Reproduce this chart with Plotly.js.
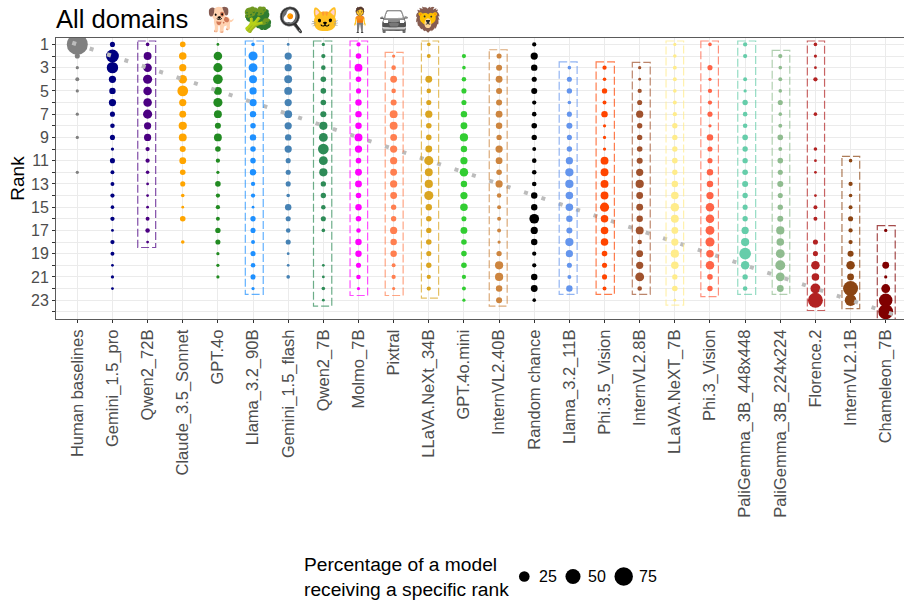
<!DOCTYPE html>
<html><head><meta charset="utf-8">
<script src="https://cdn.plot.ly/plotly-3.0.1.min.js"></script>
<style>html,body{margin:0;padding:0;background:#fff;overflow:hidden}</style>
</head><body><div id="chart" style="width:904px;height:601px"></div>
<script>
const models = ["Human baselines","Gemini_1.5_pro","Qwen2_72B","Claude_3.5_Sonnet","GPT.4o","Llama_3.2_90B","Gemini_1.5_flash","Qwen2_7B","Molmo_7B","Pixtral","LLaVA.NeXt_34B","GPT.4o.mini","InternVL2.40B","Random chance","Llama_3.2_11B","Phi.3.5_Vision","InternVL2.8B","LLaVA.NeXT_7B","Phi.3_Vision","PaliGemma_3B_448x448","PaliGemma_3B_224x224","Florence.2","InternVL2.1B","Chameleon_7B"];
const colors = ["#808080","#000080","#4B0082","#FFA500","#228B22","#1E90FF","#4682B4","#2E8B57","#FF00FF","#FF7F50","#DAA520","#32CD32","#CD853F","#000000","#6495ED","#FF4500","#A0522D","#FFEC8B","#FF6347","#66CDAA","#8FBC8F","#B22222","#8B4513","#800000"];
// percentage of each model receiving rank 1..24 (0 = none)
const human      = [85,5,2,3,2,0,2,0,2,0,0,2,0,0,0,0,0,0,0,0,0,0,0,0];
const geminiPro  = [5,32,25,10,8,10,5,4,5,2,5,3,3,3.5,2.5,3.5,1.5,3.5,3,1.5,2,1.5,0,0];
const qwen72     = [2.5,12,14,16,14,14,16,10,10,3.5,3.5,2.5,1.5,1.5,1.5,3,4,1.5,0,0,0,0,0,0];
const claude     = [6,11,10,14,22,10,9,13,12,7,9,6,5,2.5,1.5,6,0,2.5,0,0,0,0,0,0];
const gpt4o      = [1.5,14,16,18,12,16,12,7,12,6,3.5,2,6,3.5,3.5,3,5.5,5,2,2,2,0,0,0];
const llama90    = [2.5,16,15,12,10,10,8,6,8,6,6,8,3.5,3.5,1.5,5.5,5,3,5,4,5,2,0,0];
const geminiFl   = [1.5,10,10,12,12,10,12,10,8,10,5,5,5,2.5,8,5,4,5,1.5,1.5,2.5,0,0,0];
const qwen7      = [2,3.5,4,6,6,6,7,13,15,22,15,13,5.5,5.5,4,5,2.5,0,0,1.5,1.5,2.5,1.5,0];
const molmo      = [3.5,6,12,6,5,8,8,8,12,10,6,9,9,6,8,6,4,8,8,5,4,2,0,0];
const pixtral    = [0,2,4,9,4,7,12,12,9,10,10,9,10,9,5.5,5.5,10,8,8,3,3.5,2,0,0];
const llava34    = [2.5,3,0,9,4,5,10,6,6,9,16,12,13,16,8,6,5.5,6,5,5.5,3.5,3.5,0,0];
const gpt4oMini  = [0,3.5,2.5,4,5,5,8,9,13,8,10,14,8,10,11,5,9,6,6,6,3.5,3,2,0];
const intern40   = [0,5,7,9,7,7,9,8,5.5,10,9,6,10,4,3,3,3,2,5.5,13,13,8,7,0];
const randomCh   = [3.5,10,8,5,7,3.5,4,6,5.5,3,4,4,4,8,8,18,10,8,3.5,3.5,8,9,2.5,0];
const llama11    = [0,0,2.5,5,5.5,2.5,5,7,5,5.5,10,13,13,11,11,8,7,13,10,5,3,8,0,0];
const phi35      = [0,0,3.5,2.5,5.5,3,8,2,2,2,12,12,12,12,16,11,11,11,6,5,5,3,0,0];
const intern8    = [0,0,2,1.5,3.5,5,10,5.5,5.5,6,7,10,13,9,9,8,12,4,9,10,15,4,0,0];
const llava7     = [2,2.5,3,3,2.5,3,3.5,5.5,5.5,5.5,6,5.5,8,11,14,12,9,10,13,11,5.5,6,1.5,0];
const phi3       = [2.5,0,5,2,3.5,3.5,5,2,8,5,5,8,8,10,14,14,15,16,11,14,6,5.5,0,0];
const pali448    = [3.5,3.5,0,3,2,5.5,4,4,6,5.5,5.5,6,7,5.5,5,5.5,10,13,26,14,5.5,4,0,0];
const pali224    = [0,3.5,2.5,3,2.5,5,2.5,3,6,3,6,5,7,5,5.5,7,13,11,15,19,15,9,0,0];
const florence   = [2.5,2,1.5,3.5,0,0,2.5,0,0,2.5,1.5,1.5,0,1.5,3,3,0,5,5,14,11,19,43,0];
const intern1    = [0,0,0,0,0,0,0,0,0,0,2.5,0,3.5,2.5,3,5,3.5,3.5,7,14,9,43,26,0];
const chameleon  = [0,0,0,0,0,0,0,0,0,0,0,0,0,0,0,0,2,0,0,9,2,15,35,43];
const rankTable = [human,geminiPro,qwen72,claude,gpt4o,llama90,geminiFl,qwen7,molmo,pixtral,llava34,gpt4oMini,intern40,randomCh,llama11,phi35,intern8,llava7,phi3,pali448,pali224,florence,intern1,chameleon];
const ranks = [1,2,3,4,5,6,7,8,9,10,11,12,13,14,15,16,17,18,19,20,21,22,23,24];
const rankLabels = ["1","","3","","5","","7","","9","","11","","13","","15","","17","","19","","21","","23",""];
const frameModel = [2,5,7,8,9,10,12,14,15,16,17,18,19,20,21,22,23];
const frameTop   = [0.71,0.71,0.71,0.71,1.69,0.71,1.46,2.51,2.51,2.55,0.71,0.71,0.71,1.52,0.71,10.64,16.58];
const frameBot   = [18.47,22.51,23.51,22.6,22.6,22.82,23.51,22.51,22.51,22.51,23.43,22.69,22.51,22.51,23.89,23.72,24.7];
const frameLeft  = [-0.28,-0.22,-0.28,-0.24,-0.24,-0.21,-0.28,-0.29,-0.24,-0.21,-0.25,-0.26,-0.21,-0.23,-0.23,-0.245,-0.24];
const frameRight = [0.23,0.29,0.24,0.26,0.27,0.28,0.23,0.22,0.28,0.30,0.25,0.24,0.30,0.27,0.26,0.26,0.27];
const diagX = [-0.142,23.52];
const diagY = [0.858,24.52];
const legendValues = [25,50,75];
const legendPos = [0,0.98,2];
const titleText = "All domains";
const emojis = ["🐕","🥦","🍳","🐱","🧍","🚘","🦁"];
const emojiX = [222,257.5,291,325,360,394,428];

const FONT = "Liberation Sans, Arial, sans-serif";
const SIZEREF = 2/4.54;
const SIZEREF_PANEL = 2/5.2;
const H = 601, W = 904, ML = 56, MT = 38;
const plotH = H - MT, plotW = W - ML;
const traces = models.map((m,i)=>{
  const xs=[],ys=[],ss=[];
  rankTable[i].forEach((v,j)=>{ if(v>0){ xs.push(i); ys.push(ranks[j]); ss.push(v);} });
  return {type:"scatter",mode:"markers",name:m,x:xs,y:ys,xaxis:"x",yaxis:"y",
    marker:{color:colors[i],opacity:1,size:ss,sizemode:"area",sizeref:SIZEREF_PANEL,line:{width:0}},showlegend:false,hoverinfo:"skip"};
});
traces.push({type:"scatter",mode:"markers",x:legendPos,y:legendPos.map(()=>0),xaxis:"x2",yaxis:"y2",showlegend:false,hoverinfo:"skip",
  marker:{color:"#000",opacity:1,size:legendValues,sizemode:"area",sizeref:SIZEREF,line:{width:0}}});
traces.push({type:"scatter",mode:"lines",x:diagX,y:diagY,xaxis:"x",yaxis:"y",showlegend:false,hoverinfo:"skip",
  line:{color:"#bcbcbc",width:4,dash:"4,14.3"}});

const shapes = frameModel.map((mi,k)=>({type:"rect",xref:"x",yref:"y",
  x0:mi+frameLeft[k],x1:mi+frameRight[k],y0:frameTop[k],y1:frameBot[k],
  line:{color:colors[mi],width:1.2,dash:"8px,3px"},opacity:0.7,fillcolor:"rgba(0,0,0,0)"}));

const annotations = [
  {xref:"paper",yref:"paper",x:(304-ML)/plotW,y:(H-577)/plotH,xanchor:"left",yanchor:"middle",align:"left",showarrow:false,xshift:-2,
   text:"Percentage of a model<br>receiving a specific rank",font:{family:FONT,size:19.2,color:"#000"}},
  ...legendValues.map((v,i)=>({xref:"x2",yref:"y2",x:legendPos[i],y:0,xanchor:"left",yanchor:"middle",xshift:13,showarrow:false,
   text:String(v),font:{family:FONT,size:16,color:"#000"}})),
  ...emojis.map((e,i)=>({xref:"paper",yref:"paper",x:(emojiX[i]-ML)/plotW,y:(H-20)/plotH,xanchor:"center",yanchor:"middle",showarrow:false,
   text:e,font:{family:"Noto Color Emoji, sans-serif",size:24}})),
  {xref:"paper",yref:"paper",x:0,y:(H-19)/plotH,xanchor:"left",yanchor:"middle",showarrow:false,xshift:-2,
   text:titleText,font:{family:FONT,size:25.6,color:"#000"}}
];

const layout = {
  width:W,height:H,autosize:false,margin:{l:ML,r:0,t:MT,b:0,pad:0},paper_bgcolor:"#fff",plot_bgcolor:"#fff",
  xaxis:{domain:[0,1],anchor:"y",type:"linear",range:[-0.606,23.52],tickmode:"array",tickvals:models.map((_,i)=>i),ticktext:models,
    tickangle:-90,tickfont:{family:FONT,size:16.5,color:"#4d4d4d"},ticks:"outside",ticklen:3,tickcolor:"#333",tickwidth:1,
    showgrid:true,gridcolor:"#ebebeb",gridwidth:1,showline:true,linecolor:"#5a5a5a",linewidth:1,mirror:true,zeroline:false},
  yaxis:{domain:[(H-319)/plotH,1],anchor:"x",type:"linear",range:[24.62,0.45],tickmode:"array",tickvals:ranks,ticktext:rankLabels,
    tickfont:{family:FONT,size:16,color:"#4d4d4d"},ticks:"outside",ticklen:3,tickcolor:"#333",tickwidth:1,
    showgrid:true,gridcolor:"#ebebeb",gridwidth:1,showline:true,linecolor:"#5a5a5a",linewidth:1,zeroline:false,
    title:{text:"Rank",font:{family:FONT,size:19,color:"#000"},standoff:1}},
  xaxis2:{domain:[0.5,0.7],anchor:"y2",range:[-0.891,2.521],visible:false,fixedrange:true},
  yaxis2:{domain:[(H-590)/plotH,(H-563)/plotH],anchor:"x2",range:[-1,1],visible:false,fixedrange:true},
  shapes,annotations,showlegend:false
};
Plotly.newPlot("chart",traces,layout,{displayModeBar:false,staticPlot:true}).then(()=>{
  document.querySelectorAll(".annotation-text").forEach(t=>{
    if(t.textContent==="🚘") t.style.filter="grayscale(1) brightness(1.6)";
  });
});
</script></body></html>
